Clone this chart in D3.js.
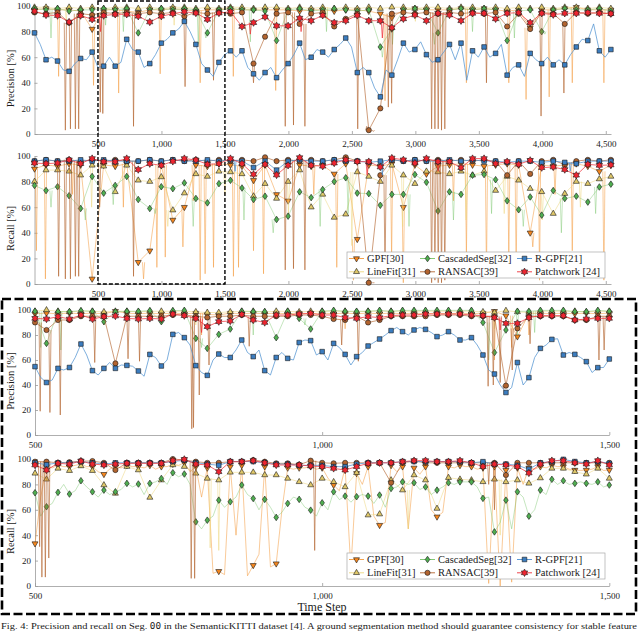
<!DOCTYPE html>
<html>
<head>
<meta charset="utf-8">
<script src="https://cdn.jsdelivr.net/npm/d3@7"></script>
<style>
    body { margin: 0; background: #fff; }
    svg text { font-family: "Liberation Serif", "DejaVu Serif", serif; fill: #1a1a1a; }
    .axis path, .axis line { stroke: #9a9a9a; stroke-width: 0.8; }
    .axis text { font-size: 9px; }
</style>
</head>
<body>
<svg id="chart" width="640" height="632"></svg>
<script>
(function(){

    // legend names, in plotting order
    var seriesNames = ["GPF[30]", "LineFit[31]", "CascadedSeg[32]", "RANSAC[39]", "R-GPF[21]", "Patchwork [24]"];

    // tick labels
    var fullTicks = [500, 1000, 1500, 2000, 2500, 3000, 3500, 4000, 4500];
    var zoomTicks = [500, 1000, 1500];
    var yTicks = [0, 20, 40, 60, 80, 100];

    // ---- whole sequence, precision: one value per marker (51 markers) ----
    var precAllGPF = [97,98,97,97,96,82,97,97,96,95,97,97,98,97,96,97,97,98,97,97,97,97,97,96,97,
        97,96,97,97,96,94,91,97,98,97,97,97,98,97,98,97,96,97,83,97,97,98,99,97,97,97];
    var precAllGPFDips = [[190,45],[465,38],[663,32],[990,47],[1305,40],[1566,45],[1900,34],[2761,26],
        [3402,40],[3736,40],[3872,27],[4054,29],[4236,40],[4485,40]];
    var precAllLineFit = [99,99,98,99,98,99,98,99,99,98,99,98,99,99,98,99,98,99,99,98,99,99,98,99,98,
        99,98,99,98,99,98,99,99,98,99,99,98,99,99,98,99,98,99,98,99,98,99,99,98,99,98];
    var precAllLineFitDips = [[250,88],[1100,85],[2300,90],[3000,88]];
    var precAllCasc = [98,97,98,96,97,97,98,97,98,79,97,98,97,98,97,79,97,98,97,97,96,73,97,98,96,
        97,98,97,96,97,68,82,97,98,97,79,97,98,97,98,97,73,96,97,80,97,98,97,97,98,96];
    var precAllCascDips = [[130,75],[560,85],[700,80],[1290,70],[1350,75],[1700,72],[2300,80],[2740,60],
        [2820,70],[3150,70],[3450,80],[3780,75],[4020,78]];
    var precAllRansac = [95,94,95,87,94,93,95,94,95,94,95,94,95,92,95,94,95,94,95,55,76,94,95,86,94,
        95,84,90,94,3,20,94,95,94,95,94,95,94,95,94,95,84,94,82,95,94,86,95,94,95,94];
    var precAllRansacDips = [[243,3],[283,4],[322,4],[348,4],[518,17],[538,16],[780,6],[1186,37],[1410,42],
        [1725,40],[1975,6],[2040,7],[2130,6],[2546,4],[2617,6],[2669,2],[2787,21],[2813,24],[3128,4],
        [3154,4],[3180,4],[3206,3],[3232,4],[3560,40],[3990,14],[4170,32]];
    var precAllRgpf = [79,58,57,49,59,64,53,53,74,64,55,71,79,88,70,50,56,65,65,47,48,44,55,71,60,
        64,66,75,48,48,29,46,71,66,62,58,70,71,65,68,63,46,54,63,55,54,54,68,73,65,66];
    // values half way between two markers
    var precAllRgpfMid = [70,60,50,55,58,52,60,56,66,52,62,74,82,80,55,45,62,60,52,42,52,50,62,58,66,
        60,70,68,52,36,50,58,64,72,56,64,58,42,60,60,70,52,45,58,60,58,62,74,86,60];
    var precAllPatch = [96,93,92.5,87.5,92.5,89.6,92.5,93.5,93.5,92,87.5,92,94,95.5,94.5,89.6,94.5,95.5,84,87,91.5,84.5,84.5,90.5,88.5,
        92.7,87,88.5,92.7,88.5,88.5,83,90,93,88.5,94.3,93,88.5,94.3,94.3,90,94.3,94.8,87,94.3,93.2,94.3,94.3,94.8,94.3,94];
    var precAllPatchDips = [[520,80],[1700,78],[2100,80],[2740,75]];

    // ---- whole sequence, recall ----
    var recAllGPF = [90,93,92,94,93,4,93,92,94,17,26,93,50,60,93,92,94,93,92,81,93,70,65,93,92,
        93,86,94,35,93,92,94,60,93,86,92,93,94,93,92,93,94,93,40,93,92,93,94,92,88,93];
    var recAllGPFDips = [[15,26],[86,4],[300,70],[700,60],[859,4],[964,13],[1030,21],[1169,29],[1250,65],
        [1305,3],[1344,8],[1410,13],[1567,6],[1607,13],[1725,26],[1804,8],[2200,70],[2381,13],[2512,3],
        [2546,34],[2813,19],[2905,1],[3300,65],[3402,21],[3560,8],[3736,19],[3794,8],[3925,29],[3978,3],
        [4100,70],[4236,26],[4485,3]];
    var recAllLineFit = [80,89,89,88,85,92.7,92,72,92.7,81,80,83.6,57.7,71,86,84,88,87.5,86,68.6,78.4,66.8,80,89,60,
        70,52,54.5,87.5,84,80,92.7,85,78.4,88,87.5,86,88,85,88,73,84,81,74.5,72,55,70.6,80,78.4,82,84];
    var recAllLineFitDips = [[450,60],[1050,45],[1500,70],[2000,55],[2500,30],[2900,45],[3400,50],
        [3700,55],[4000,50],[4300,60]];
    var recAllCasc = [77,73,76,69,59,84,71,77,84,66,59,76,74.5,79,66.8,63.4,78.4,81,75,66,68.6,50.4,53,72,67.5,
        73.8,80,83,71,70.6,61.5,70,70,85.5,79.5,57,72,70,85,85.5,81.5,65,58,68,53.8,73,66.8,68.6,64,75.8,78];
    var recAllCascDips = [[130,60],[400,50],[620,62],[950,55],[1250,45],[1650,50],[1880,40],[2250,45],
        [2470,55],[2950,45],[3300,50],[3600,55],[3850,45],[4150,40],[4420,55]];
    var recAllRansac = [96,97,96,97,96,97,96,97,96,96,97,96,97,96,97,96,97,96,97,96,99,96,97,96,97,
        96,97,99,96,1,85,97,96,97,96,97,96,97,96,97,96,85,96,86,96,97,93,96,97,96,97];
    var recAllRansacDips = [[190,6],[243,4],[283,4],[322,6],[348,6],[513,60],[780,6],[1975,11],[2040,12],
        [2130,11],[2617,1],[2669,1],[2761,6],[3128,1],[3154,3],[3180,1],[3206,1],[3232,3]];
    var recAllRgpf = [96,97,96,96,97,96,97,96,96,96,97,96,97,96,96,97,96,97,96,91,96,89,96,97,96,
        96,97,96,96,95,96,97,96,97,96,96,97,96,97,96,96,95,96,96,95,96,95,94,96,96,96];
    var recAllRgpfDips = [[1580,88],[2740,85],[4220,88]];
    var recAllPatch = [94.5,94,94.5,97,94,98,95.5,95.5,98,89.4,94,92.7,95.8,98,96.9,93.5,94,98,94,85.7,93.5,85.2,92.7,98.7,92.7,
        92,94.5,97,95.6,95.6,91.4,98.4,97,94.5,98,95.6,95.6,90.9,98,98,94,95.6,93.5,96.6,90.9,91.4,89.4,85,93.5,92.7,93];
    var recAllPatchDips = [[2620,85],[3180,88]];

    // ---- steps 500-1500, precision: one value per marker (every 20 steps) ----
    var precZoomGPF = [97,97.5,97,97.5,97,97.5,97,99,97.5,97,97.5,97,97.5,97,97.5,96.5,96,97.5,97,97.5,97,97.5,97,97.5,97,
        97.5,97,97.5,97,97.5,97,97.5,97,97.5,97,97.5,97,97.5,97,97.5,99,95.5,78.7,97,97.5,97,97.5,97,97.5,97,97.5];
    var precZoomGPFDips = [[620,88],[790,80],[1040,85],[1300,60],[1330,70],[1360,80]];
    var precZoomLineFit = [99,100,99,98.5,99,99,98.5,99,99,98.5,99,99,99,99,98.5,98,98,98.5,99,99,98.5,99,99,98.5,99,
        99,99,99,98.5,99,99,99,99,99,99,99,99,99,99,98.5,98,99.5,98.5,98,99,99,99,99,98.5,99,99];
    var precZoomLineFitDips = [[780,88],[1300,85]];
    var precZoomCasc = [99,73.3,98.7,98.7,99.5,99,90.7,98.7,99,99,99.5,90.7,99.5,99.7,77.3,69.3,80.5,84.8,99,98.7,98.7,77.9,99,93.3,84.8,
        99,99.7,99,99,99,99.7,99,99.7,99.7,99.7,99.7,99.7,99.7,99.7,90,66,84,99,99,99.7,99.7,99.7,98.7,98.7,99.7,99];
    var precZoomCascDips = [[510,70],[545,68],[790,70],[820,80],[880,80],[970,88],[1290,60],[1300,64],[1340,80],[1370,82]];
    var precZoomRansac = [90,84,92,92,95,95,95,57.3,95,95,95,95,96,96,95,94,95,95,96,95,95,95,95,96,96,
        95,92.8,92,95,90,92,95,95,95,95,96,96,96,95,95,95,39.5,85.3,95,95,95,95,92,92,95,95];
    var precZoomRansacDips = [[509,19],[526,18],[544,16],[604,58],[662,61],[682,59],[773,5],[776,6],[786,32],
        [803,56],[873,71],[1034,72],[1063,59],[1289,39],[1298,40],[1310,42],[1316,37],[1331,52],[1362,73],
        [1482,60],[1491,68]];
    var precZoomRgpf = [54.7,42,53.3,54,72.8,51.5,53.3,53.3,55.7,51.2,64.5,55.2,80.5,77.9,55.5,47.7,64.8,62,76,62.7,51.5,62,61.3,74,75.5,
        66.7,73.3,64.5,62.7,71.2,76.8,83.5,82.7,84,84.5,78.7,82.7,76,77.9,64,48.8,34,58,45.9,69.3,76.5,64,64.5,58.7,53.9,60.8];
    var precZoomRgpfMid = [46,44,52,62,64,48,58,56,55,47,62,60,82,72,50,60,62,68,66,68,48,66,60,76,64,
        60,70,56,66,74,80,86,80,86,82,80,80,76,72,52,40,38,40,62,72,77,66,62,50,54];
    var precZoomPatch = [93.3,92.8,94.7,92.8,96,92.8,94.7,95.2,93.3,92.8,93.3,92.8,96.8,95.5,93.3,86.7,90.7,91.2,96.5,92,90,96,96,96.8,97.3,
        96,96,93.9,93.3,94.7,93.9,95.5,96,96,96.8,96.8,96.8,96.8,96,95.5,93.9,89.3,89.3,93.9,95.5,95.5,95.5,92,92.8,93.3,93.3];
    var precZoomPatchDips = [[790,82],[1310,84]];

    // ---- steps 500-1500, recall ----
    var recZoomGPF = [33.4,94,95,94,96,94,88,94,95,94,95,94,96,97,94,93,11.6,94,95,16.3,94,17.6,93,93,94,
        93,79.5,93,88.7,94,47.9,95,94,93,94,54.5,94,95,94,93,94,91.3,93,93,94,95,94,91.3,91.3,94,91.3];
    var recZoomGPFMid = [70,93,94,95,94,90,92,93,94,93,92,94,95,90,70,10,9,40,8,25,15,60,92,93,92,
        85,75,14,80,55,50,90,45,88,60,58,93,94,92,2,0,3,80,92,93,94,92,91,92,91];
    var recZoomLineFit = [88.7,84,92.6,90.8,94.5,90.8,79.5,72.9,94,91.3,69.7,83.4,95.3,94,88.7,84.7,83.4,89.5,89.5,89.5,87.4,87.4,84.7,82,79.5,
        84.7,82,78,89.2,55.8,56.6,83.4,75.5,87.4,83.4,61,85.3,84,83.4,82,84,82,83.4,80.8,85,92.6,92.6,90,88,92.6,84.7];
    var recZoomLineFitDips = [[805,30],[820,28],[1150,45],[1310,40]];
    var recZoomCasc = [73.4,62.4,73.7,72.4,82.9,74.2,75.5,74.2,80.8,80.3,80.8,84.7,89.2,88.2,50.5,51.8,67.6,66.3,79.5,68.9,68.2,54,65,68.2,59.7,
        65.5,74.2,70.8,70.3,70.8,71.6,76.8,82,81.3,78,75.5,81.3,82,82,69,42.6,67.6,74.2,55,75.5,84,82.9,80.8,80.8,82,79.5];
    var recZoomCascMid = [55,65,80,75,78,70,72,76,78,72,82,80,86,80,45,55,62,70,72,60,62,58,70,62,55,
        60,68,66,72,65,62,78,80,76,72,78,80,82,78,70,50,45,70,60,72,80,80,82,80,78];
    var recZoomRansac = [97.9,97.9,97,97.5,98.4,98.4,97,91.3,97,97,97,97,100,99.2,97.9,97,97,97.9,97.9,99.2,97.9,96.6,96.6,95.5,98.7,
        97,96.6,97,97,97,97,81.3,97,98.4,97,97,97,97,97,97,97,87.4,97,97,97,97,97,97,97,97,97];
    var recZoomRansacDips = [[508,31],[512,7],[518,7],[524,22],[772,6],[778,6],[987,28],[1290,80],[1300,60]];
    var recZoomRgpf = [97,95.5,97,97,98,97,96,97,97,97,97,97,98,99,97,96,95,98,98,98,97,96,96,95,95,
        95,94,94,96,97,97,97,98,98,98,98,98,98,97,97.9,96,96,95,92,97,98,99.7,98,97,98,96.6];
    var recZoomPatch = [95.3,91.3,96.6,96,98.4,96,95.3,96,96.6,96.6,96.6,96.6,98.7,99.7,96,95.3,90,97.9,97.9,98.7,97,95.3,95.3,95.3,94.5,
        94,92.6,91.3,94,96.6,97,97,97.9,98.7,98.7,97.9,97.9,98.7,97,94,96,95.3,94,89,96,98.7,98.7,97,96,98.7,95.3];

    // marker positions (time steps)
    var fullSteps = d3.range(51).map(function(i){ return i * 90.8; });
    var zoomSteps = d3.range(51).map(function(i){ return 500 + i * 20; });

    // ---- marker shapes ----
    function triPath(a, up){
        var h = a * 0.866, s = up ? -1 : 1;
        return "M" + (-a/2) + "," + (-s*h/3) + "L" + (a/2) + "," + (-s*h/3) + "L0," + (s*2*h/3) + "Z";
    }
    function diamondPath(w, h){
        return "M0," + (-h) + "L" + w + ",0L0," + h + "L" + (-w) + ",0Z";
    }
    function circlePath(r){
        return "M" + r + ",0A" + r + "," + r + " 0 1 1 " + (-r) + ",0A" + r + "," + r + " 0 1 1 " + r + ",0Z";
    }
    function squarePath(s){
        return "M" + (-s/2) + "," + (-s/2) + "h" + s + "v" + s + "h" + (-s) + "Z";
    }
    function hexStarPath(R){
        var r = R / Math.sqrt(3), s = "";
        for (var k = 0; k < 12; k++){
            var a = -Math.PI/2 + k * Math.PI/6, rad = k % 2 ? r : R;
            s += (k ? "L" : "M") + (rad*Math.cos(a)).toFixed(2) + "," + (rad*Math.sin(a)).toFixed(2);
        }
        return s + "Z";
    }

    var styles = [
        {line: "#F39A3C", op: 0.75, lw: 0.7, fill: "#F5871F", sym: triPath(6, false)},
        {line: "#EDD77E", op: 0.75, lw: 0.7, fill: "#E0C869", sym: triPath(6, true)},
        {line: "#74C365", op: 0.6,  lw: 0.7, fill: "#4FAE50", sym: diamondPath(2.3, 3.3)},
        {line: "#B4652F", op: 0.8,  lw: 0.8, fill: "#B3642F", sym: circlePath(2.6)},
        {line: "#4B8FD0", op: 0.9,  lw: 0.8, fill: "#3B7DC0", sym: squarePath(4.6)},
        {line: "#EE3038", op: 0.9,  lw: 0.8, fill: "#EE2530", sym: hexStarPath(3.7)}
    ];

    var panels = [
        {steps: fullSteps, xDomain: [0, 4541], xRange: [34.5, 611], yRange: [134, 6], ticks: fullTicks,
         label: "Precision [%]", lx: 10, ly: 78.5,
         marks: [precAllGPF, precAllLineFit, precAllCasc, precAllRansac, precAllRgpf, precAllPatch],
         mids: [null, null, null, null, precAllRgpfMid, null],
         dips: [precAllGPFDips, precAllLineFitDips, precAllCascDips, precAllRansacDips, [], precAllPatchDips]},
        {steps: fullSteps, xDomain: [0, 4541], xRange: [34.5, 611], yRange: [284, 156], ticks: fullTicks,
         label: "Recall [%]", lx: 10, ly: 228.5, legend: [347, 252],
         marks: [recAllGPF, recAllLineFit, recAllCasc, recAllRansac, recAllRgpf, recAllPatch],
         mids: [null, null, null, null, null, null],
         dips: [recAllGPFDips, recAllLineFitDips, recAllCascDips, recAllRansacDips, recAllRgpfDips, recAllPatchDips]},
        {steps: zoomSteps, xDomain: [500, 1500], xRange: [35, 609.3], yRange: [435, 310], ticks: zoomTicks,
         label: "Precision [%]", lx: 10, ly: 381,
         marks: [precZoomGPF, precZoomLineFit, precZoomCasc, precZoomRansac, precZoomRgpf, precZoomPatch],
         mids: [null, null, null, null, precZoomRgpfMid, null],
         dips: [precZoomGPFDips, precZoomLineFitDips, precZoomCascDips, precZoomRansacDips, [], precZoomPatchDips]},
        {steps: zoomSteps, xDomain: [500, 1500], xRange: [35, 609.3], yRange: [586, 459], ticks: zoomTicks,
         label: "Recall [%]", lx: 10, ly: 531.5, legend: [347, 553],
         marks: [recZoomGPF, recZoomLineFit, recZoomCasc, recZoomRansac, recZoomRgpf, recZoomPatch],
         mids: [recZoomGPFMid, null, recZoomCascMid, null, null, null],
         dips: [[], recZoomLineFitDips, [], recZoomRansacDips, [], []]}
    ];

    var svg = d3.select("#chart");

    function nearestValue(pts, s){
        var best = pts[0];
        pts.forEach(function(p){ if (Math.abs(p[0] - s) < Math.abs(best[0] - s)) best = p; });
        return best[1];
    }

    function drawPanel(p){
        var x = d3.scaleLinear().domain(p.xDomain).range(p.xRange);
        var y = d3.scaleLinear().domain([0, 100]).range(p.yRange);
        var g = svg.append("g");

        // axes
        g.append("g").attr("class", "axis")
            .attr("transform", "translate(0," + p.yRange[0] + ")")
            .call(d3.axisBottom(x).tickValues(p.ticks).tickFormat(d3.format(","))
                .tickSize(-3).tickSizeOuter(0).tickPadding(6.2));
        g.append("g").attr("class", "axis")
            .attr("transform", "translate(" + p.xRange[0] + ",0)")
            .call(d3.axisLeft(y).tickValues(yTicks).tickSize(-3).tickSizeOuter(0).tickPadding(4));
        g.selectAll(".axis .domain").attr("fill", "none");

        g.append("text")
            .attr("transform", "translate(" + p.lx + "," + p.ly + ") rotate(-90)")
            .attr("text-anchor", "middle").attr("dominant-baseline", "central")
            .style("font-size", "10.5px")
            .text(p.label);

        var line = d3.line().x(function(d){ return x(d[0]); }).y(function(d){ return y(d[1]); });
        var w = x.invert(p.xRange[0] + 1.1) - p.xDomain[0];   // half width of a spike

        seriesNames.forEach(function(name, k){
            var st = styles[k], marks = p.marks[k];
            var pts = marks.map(function(v, i){ return [p.steps[i], v]; });
            if (p.mids[k]) p.mids[k].forEach(function(v, i){
                pts.push([(p.steps[i] + p.steps[i+1]) / 2, v]);
            });
            pts.sort(function(a, b){ return a[0] - b[0]; });

            var sg = g.append("g");
            sg.append("path").datum(pts)
                .attr("d", line).attr("fill", "none")
                .attr("stroke", st.line).attr("stroke-width", st.lw)
                .attr("stroke-opacity", st.op).attr("stroke-linejoin", "round");

            // short drops of the trace
            sg.selectAll(".spike").data(p.dips[k]).enter().append("path")
                .attr("d", function(d){
                    var base = nearestValue(pts, d[0]);
                    return line([[d[0] - w, base], [d[0], d[1]], [d[0] + w, base]]);
                })
                .attr("fill", "none").attr("stroke", st.line).attr("stroke-width", st.lw)
                .attr("stroke-opacity", st.op);

            sg.selectAll(".mark").data(marks).enter().append("path")
                .attr("transform", function(v, i){ return "translate(" + x(p.steps[i]) + "," + y(v) + ")"; })
                .attr("d", st.sym)
                .attr("fill", st.fill).attr("stroke", "#1a1a1a").attr("stroke-width", 0.6);
        });

        if (p.legend) drawLegend(p.legend[0], p.legend[1]);
        return x;
    }

    function drawLegend(lx, ly){
        var lg = svg.append("g").attr("transform", "translate(" + lx + "," + ly + ")");
        lg.append("rect").attr("width", 258).attr("height", 26)
            .attr("fill", "#fff").attr("stroke", "#a8a8a8").attr("stroke-width", 0.7);
        var colX = [2, 73, 170];
        seriesNames.forEach(function(name, k){
            var c = Math.floor(k / 2), r = k % 2, cy = r ? 19.8 : 6.5, st = styles[k];
            lg.append("line").attr("x1", colX[c]).attr("x2", colX[c] + 15)
                .attr("y1", cy).attr("y2", cy)
                .attr("stroke", st.line).attr("stroke-width", 0.9);
            lg.append("path").attr("transform", "translate(" + (colX[c] + 7.5) + "," + cy + ")")
                .attr("d", st.sym).attr("fill", st.fill)
                .attr("stroke", "#1a1a1a").attr("stroke-width", 0.6);
            lg.append("text").attr("x", colX[c] + 18).attr("y", cy)
                .attr("dominant-baseline", "central")
                .style("font-size", "10.5px").text(name);
        });
    }

    var xTop = drawPanel(panels[0]);
    drawPanel(panels[1]);
    drawPanel(panels[2]);
    drawPanel(panels[3]);

    // zoom window on the whole sequence
    svg.append("rect")
        .attr("x", xTop(500)).attr("y", 1)
        .attr("width", xTop(1500) - xTop(500)).attr("height", 283)
        .attr("fill", "none").attr("stroke", "#000").attr("stroke-width", 1.4)
        .attr("stroke-dasharray", "4,2");

    // frame round the zoomed panels
    svg.append("rect")
        .attr("x", 2).attr("y", 299).attr("width", 634).attr("height", 315)
        .attr("fill", "none").attr("stroke", "#000").attr("stroke-width", 2.6)
        .attr("stroke-dasharray", "9,3.5");

    svg.append("text").attr("x", 322).attr("y", 606.5)
        .attr("text-anchor", "middle").attr("dominant-baseline", "central")
        .style("font-size", "12px").text("Time Step");

    // caption
    var cap = svg.append("text").attr("x", 1).attr("y", 628.5)
        .attr("textLength", 636).attr("lengthAdjust", "spacingAndGlyphs")
        .style("font-size", "9.2px");
    cap.append("tspan").text("Fig. 4: Precision and recall on Seg. ");
    cap.append("tspan").style("font-family", "'DejaVu Sans Mono', 'Liberation Mono', monospace")
        .style("font-size", "8.2px").text("00");
    cap.append("tspan").text(" in the SemanticKITTI dataset [4]. A ground segmentation method should guarantee consistency for stable feature");

})();
</script>
</body>
</html>
